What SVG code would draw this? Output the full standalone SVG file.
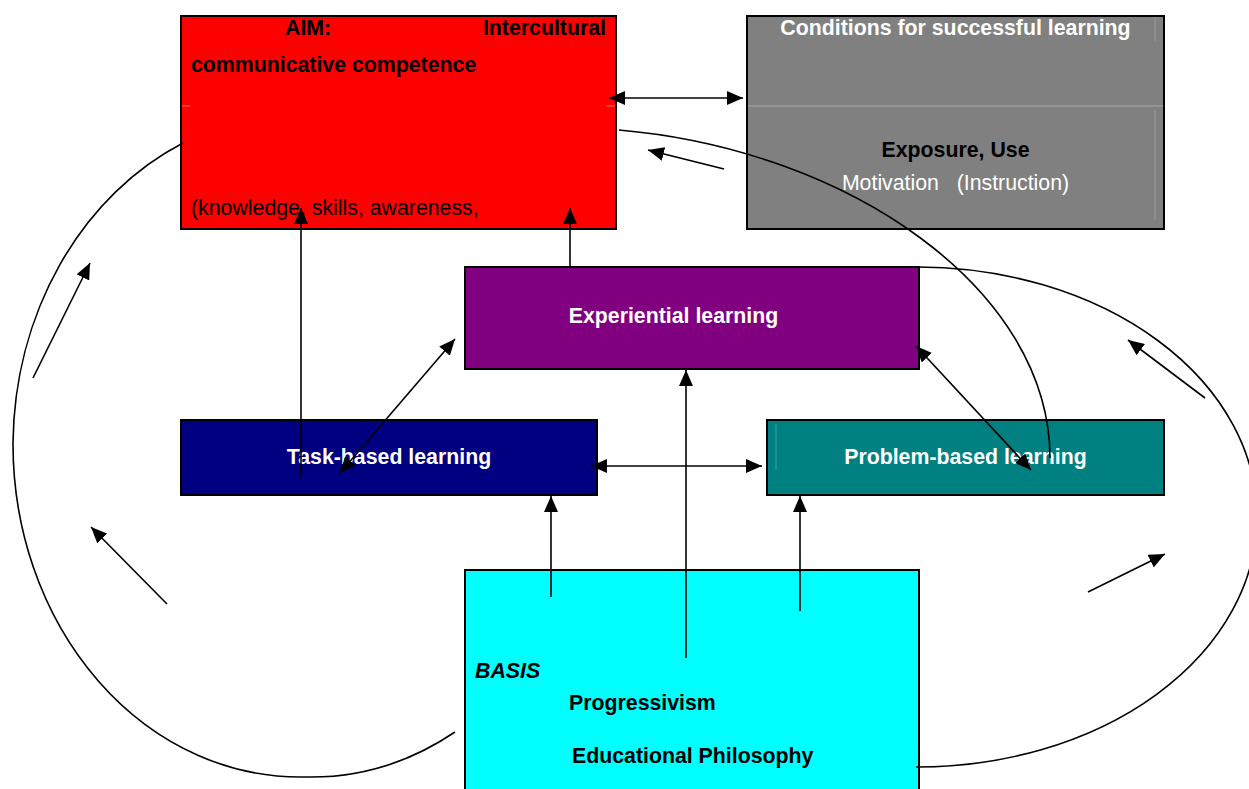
<svg xmlns="http://www.w3.org/2000/svg" width="1249" height="789" viewBox="0 0 1249 789">
  <defs>
    <marker id="head" markerUnits="userSpaceOnUse" markerWidth="16" markerHeight="14" refX="16" refY="7" orient="auto-start-reverse">
      <path d="M0,0 L16,7 L0,14 z" fill="#000"/>
    </marker>
    <style>
      .box { stroke: #000; stroke-width: 2; }
      .t { font-family: "Liberation Sans", Arial, sans-serif; font-size: 21.3px; }
      .b { font-weight: bold; }
      .w { fill: #fff; }
      .k { fill: #000; }
      .link { fill: none; stroke: #000; stroke-width: 1.6; }
      .arr { marker-end: url(#head); }
      .both { marker-start: url(#head); marker-end: url(#head); }
    </style>
  </defs>
  <rect width="1249" height="789" fill="#fff"/>

  <!-- Aim -->
  <g id="aim">
    <rect class="box" x="181" y="16" width="435" height="213" fill="#ff0000"/>
    <line x1="182" y1="106" x2="190" y2="106" stroke="#ff6a6a" stroke-width="1"/>
    <line x1="606" y1="106" x2="615" y2="106" stroke="#ff6a6a" stroke-width="1"/>
    <text class="t b k" x="285" y="35">AIM:</text>
    <text class="t b k" x="606" y="35" text-anchor="end">Intercultural</text>
    <text class="t b k" x="191" y="72">communicative competence</text>
    <text class="t k" x="191" y="215">(knowledge, skills, awareness,</text>
  </g>

  <!-- Conditions -->
  <g id="conditions">
    <rect class="box" x="747" y="16" width="417" height="213" fill="#808080"/>
    <line x1="748" y1="106" x2="1163" y2="106" stroke="#a8a8a8" stroke-width="1"/>
    <line x1="1155" y1="17" x2="1155" y2="41" stroke="#9a9a9a" stroke-width="1"/>
    <line x1="1155" y1="110" x2="1155" y2="220" stroke="#9a9a9a" stroke-width="1"/>
    <text class="t b w" x="955.5" y="35" text-anchor="middle">Conditions for successful learning</text>
    <text class="t b k" x="955.5" y="157" text-anchor="middle">Exposure, Use</text>
    <text class="t w" x="955.5" y="190" text-anchor="middle" xml:space="preserve">Motivation   (Instruction)</text>
  </g>

  <!-- Experiential learning -->
  <g id="experiential">
    <rect class="box" x="465" y="267" width="454" height="102" fill="#800080"/>
    <text class="t b w" x="673.5" y="323" text-anchor="middle">Experiential learning</text>
  </g>

  <!-- Task-based learning -->
  <g id="task">
    <rect class="box" x="181" y="420" width="416" height="75" fill="#000080"/>
    <text class="t b w" x="389" y="464" text-anchor="middle">Task-based learning</text>
  </g>

  <!-- Problem-based learning -->
  <g id="problem">
    <rect class="box" x="767" y="420" width="397" height="75" fill="#008080"/>
    <line x1="776" y1="424" x2="776" y2="470" stroke="#3aa0a0" stroke-width="1"/>
    <text class="t b w" x="965.5" y="464" text-anchor="middle">Problem-based learning</text>
  </g>

  <!-- Basis -->
  <g id="basis">
    <rect class="box" x="465" y="570" width="454" height="230" fill="#00ffff"/>
    <text class="t b k" x="475" y="678" font-style="italic">BASIS</text>
    <text class="t b k" x="569" y="710">Progressivism</text>
    <text class="t b k" x="572" y="763">Educational Philosophy</text>
  </g>

  <!-- Connectors -->
  <g id="connectors">
    <line class="link both" x1="609" y1="98" x2="743" y2="98"/>
    <line class="link arr" x1="724" y1="169" x2="648" y2="150"/>
    <path class="link" d="M619,130 C850,150 1050,290 1050,458"/>
    <line class="link arr" x1="570" y1="267" x2="570" y2="208"/>
    <line class="link arr" x1="301" y1="477" x2="301" y2="208"/>
    <line class="link both" x1="340" y1="473" x2="455" y2="339"/>
    <line class="link both" x1="591" y1="466" x2="762" y2="466"/>
    <line class="link both" x1="916" y1="346" x2="1031" y2="470"/>
    <line class="link arr" x1="686" y1="658" x2="686" y2="370"/>
    <line class="link arr" x1="551" y1="597" x2="551" y2="496"/>
    <line class="link arr" x1="800" y1="611" x2="800" y2="496"/>

    <!-- outer loops -->
    <path class="link" d="M183,143 A287,333 0 0 0 13,443 A287,333 0 0 0 305,777 A287,333 0 0 0 455,732"/>
    <path class="link" d="M918,267 A340,250 0 0 1 916,767"/>

    <!-- loop direction arrows -->
    <line class="link arr" x1="33" y1="378" x2="90" y2="263"/>
    <line class="link arr" x1="167" y1="604" x2="91" y2="527"/>
    <line class="link arr" x1="1205" y1="398" x2="1128" y2="340"/>
    <line class="link arr" x1="1088" y1="592" x2="1165" y2="554"/>
  </g>
</svg>
